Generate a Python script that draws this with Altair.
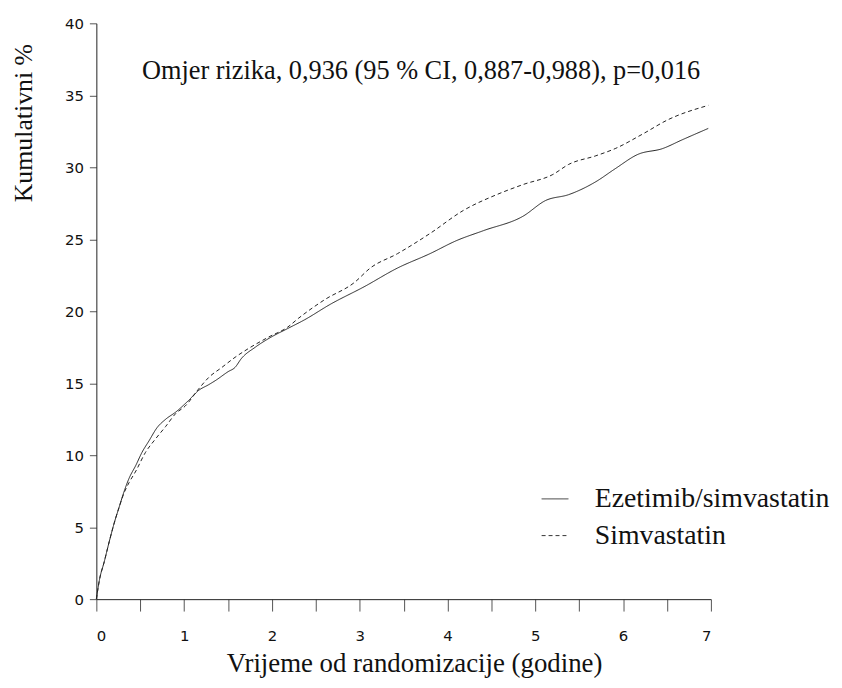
import altair as alt
import pandas as pd

# Ezetimib/simvastatin (solid)
eze_t = [0, 0.02, 0.034, 0.09, 0.147, 0.204, 0.26, 0.317, 0.373, 0.45, 0.52, 0.60, 0.69,
         0.79, 0.905, 1.05, 1.165, 1.28, 1.36, 1.50, 1.58, 1.65, 1.81, 1.99, 2.18, 2.37,
         2.67, 3.05, 3.43, 3.80, 4.10, 4.41, 4.86, 5.12, 5.38, 5.69, 5.91, 6.17, 6.45,
         6.67, 6.97]
eze_v = [0, 0.8, 1.3, 2.6, 4.0, 5.3, 6.4, 7.5, 8.4, 9.3, 10.2, 11.0, 11.9,
         12.5, 13.0, 13.8, 14.5, 14.9, 15.2, 15.8, 16.1, 16.7, 17.5, 18.2, 18.8, 19.4,
         20.5, 21.7, 23.0, 24.0, 24.9, 25.6, 26.6, 27.7, 28.1, 29.0, 29.9, 30.9, 31.3,
         31.9, 32.7]

# Simvastatin (dashed)
sim_t = [0, 0.02, 0.034, 0.09, 0.147, 0.204, 0.26, 0.317, 0.373, 0.45, 0.56, 0.67, 0.79,
         0.905, 1.01, 1.165, 1.28, 1.43, 1.58, 1.73, 1.96, 2.18, 2.30, 2.60, 2.94, 3.12,
         3.43, 3.80, 4.18, 4.56, 4.86, 5.20, 5.38, 5.69, 5.91, 6.22, 6.51, 6.97]
sim_v = [0, 0.8, 1.3, 2.6, 4.0, 5.3, 6.4, 7.4, 8.1, 8.9, 10.2, 11.1, 12.0,
         12.9, 13.4, 14.6, 15.4, 16.1, 16.8, 17.4, 18.2, 18.9, 19.5, 20.8, 22.0, 23.0,
         24.0, 25.4, 27.0, 28.1, 28.8, 29.5, 30.2, 30.8, 31.3, 32.3, 33.3, 34.3]

groups = ["Ezetimib/simvastatin", "Simvastatin"]
annotation = ["Omjer rizika, 0,936 (95 % CI, 0,887-0,988), p=0,016"]

x_ticks = [i * 0.5 for i in range(15)]
y_ticks = [i * 2.5 for i in range(17)]

rows = [{"t": t, "v": v, "g": groups[0]} for t, v in zip(eze_t, eze_v)]
rows += [{"t": t, "v": v, "g": groups[1]} for t, v in zip(sim_t, sim_v)]
df = pd.DataFrame(rows)

SERIF = "Liberation Serif"

xscale = alt.Scale(domain=[0, 7], nice=False, zero=False)
yscale = alt.Scale(domain=[0, 40], nice=False)

lines = alt.Chart(df).mark_line(strokeWidth=1, interpolate="monotone").encode(
    x=alt.X("t:Q", scale=xscale, axis=alt.Axis(
        values=x_ticks, labelExpr="datum.value % 1 === 0 ? format(datum.value, 'd') : ''",
        title="Vrijeme od randomizacije (godine)", grid=False,
        tickSize=12, labelPadding=18, titleX=320, titleY=73, titleFontSize=27,
        titleBaseline="alphabetic", titleAlign="center")),
    y=alt.Y("v:Q", scale=yscale, axis=alt.Axis(
        values=y_ticks, labelExpr="datum.value % 5 === 0 ? format(datum.value, 'd') : ''",
        title="Kumulativni %", grid=False, tickSize=7, labelPadding=6,
        titleAngle=270, titleX=-65, titleY=100, titleAlign="center",
        titleBaseline="alphabetic")),
    color=alt.value("#222222"),
    strokeDash=alt.StrokeDash("g:N", scale=alt.Scale(domain=groups, range=[[1, 0], [4, 3]]),
                              legend=alt.Legend(title=None, orient="none", legendX=448, legendY=465,
                                                symbolType="stroke", symbolSize=729,
                                                symbolStrokeWidth=1, symbolStrokeColor="#333333",
                                                labelFont=SERIF, labelFontSize=28,
                                                labelColor="#111111", labelOffset=26,
                                                rowPadding=9, labelLimit=400)),
)

ann_df = pd.DataFrame({"label": annotation, "t": [0.52], "v": [36.1]})
ann = alt.Chart(ann_df).mark_text(align="left", baseline="alphabetic", font=SERIF,
                                  fontSize=26.5, color="#111111").encode(
    x=alt.X("t:Q", scale=xscale), y=alt.Y("v:Q", scale=yscale), text="label:N")

chart = alt.layer(lines, ann).properties(
    width=619, height=580,
    autosize=alt.AutoSizeParams(type="none"),
    padding={"left": 89, "top": 13, "right": 124, "bottom": 79},
).configure_view(stroke=None).configure_axis(
    domainColor="#222222", tickColor="#555555", labelFont="DejaVu Sans", labelFontSize=15,
    labelColor="#111111", titleFont=SERIF, titleFontSize=26, titleFontWeight="normal",
    titleColor="#111111", domainWidth=1, tickWidth=1,
)

chart.save("out.html", embed_options={"renderer": "svg", "actions": False})
